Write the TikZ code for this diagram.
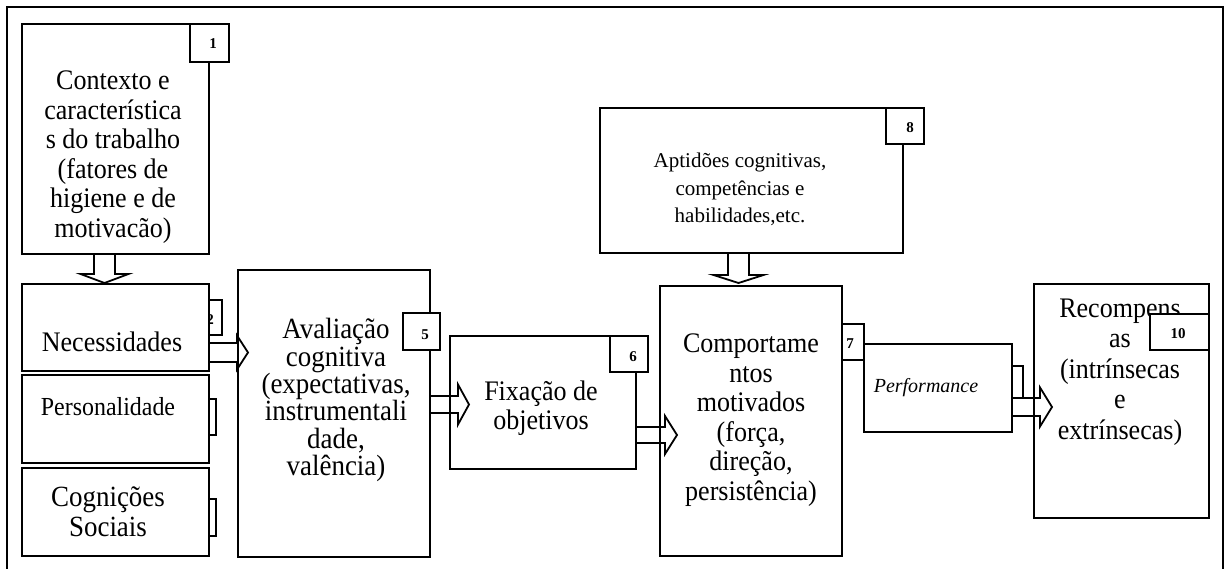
\documentclass[tikz,border=0pt]{standalone}
\usepackage{fontspec}
\setmainfont{Liberation Serif}
\newfontfamily\tallserif[FakeStretch=0.92]{Liberation Serif}
\usetikzlibrary{calc}
\tikzset{
  boxline/.style={draw=black, line width=2pt, fill=white, inner sep=0pt, anchor=north west},
  tabbox/.style={draw=black, line width=1.9pt, fill=white, inner sep=0pt, anchor=north west},
  tabnum/.style={font=\fontsize{15}{15}\selectfont\bfseries, inner sep=0pt},
  txt/.style={align=center, inner sep=0pt, font=\tallserif\fontsize{28.3}{29.5}\selectfont},
  barrow/.style={draw=black, line width=1.8pt, line join=miter},
  frameline/.style={draw=black, line width=1.8pt},
}
% right-pointing block arrow: start, tip, shaft half, head half, head length
\newcommand\blockright[5]{%
  \draw[barrow] let \p1=(#1), \p2=(#2) in
    (\x1,\y1+#3) -- (\x2-#5,\y1+#3) -- (\x2-#5,\y1+#4) -- (\x2,\y1)
    -- (\x2-#5,\y1-#4) -- (\x2-#5,\y1-#3) -- (\x1,\y1-#3);}
% down-pointing block arrow: start, tip, shaft half, head half, head length
\newcommand\blockdown[5]{%
  \draw[barrow] let \p1=(#1), \p2=(#2) in
    (\x1-#3,\y1) -- (\x1-#3,\y2+#5) -- (\x1-#4,\y2+#5) -- (\x1,\y2)
    -- (\x1+#4,\y2+#5) -- (\x1+#3,\y2+#5) -- (\x1+#3,\y1);}
\begin{document}
\begin{tikzpicture}[x=1pt,y=-1pt]
\useasboundingbox (0,0) rectangle (1225,568);
\clip (0,0) rectangle (1225,568);
\fill[white] (0,0) rectangle (1225,568);
% outer frame (open at the bottom)
\draw[frameline] (7,590) -- (7,7) -- (1223,7) -- (1223,590);

% tabs lying behind their boxes
\node[tabbox, minimum width=38pt, minimum height=35pt] (n2) at (183,299) {};
\node[tabnum] (d2) at (210,320) {2};
\node[tabbox, minimum width=35pt, minimum height=36pt] (n3) at (180,398) {};
\node[tabbox, minimum width=35pt, minimum height=37pt] (n4) at (180,498) {};
\node[tabbox, minimum width=38pt, minimum height=36pt] (n7) at (825,323) {};
\node[tabnum] (d7) at (850,344) {7};
\node[tabbox, minimum width=37pt, minimum height=32pt] (n9) at (985,365) {};

% boxes
\node[boxline, minimum width=187pt, minimum height=230pt] (b1) at (21,23) {};
\node[boxline, minimum width=187pt, minimum height=87pt] (b2) at (21,283) {};
\node[boxline, minimum width=187pt, minimum height=88pt] (b3) at (21,374) {};
\node[boxline, minimum width=187pt, minimum height=88pt] (b4) at (21,467) {};
\node[boxline, minimum width=192pt, minimum height=287pt] (b5) at (237,269) {};
\node[boxline, minimum width=186pt, minimum height=133pt] (b6) at (449,335) {};
\node[boxline, minimum width=303pt, minimum height=145pt] (b8) at (599,107) {};
\node[boxline, minimum width=182pt, minimum height=270pt] (b7) at (659,285) {};
\node[boxline, minimum width=148pt, minimum height=88pt] (bp) at (863,343) {};
\node[boxline, minimum width=175pt, minimum height=234pt] (b10) at (1033,283) {};

% texts
\node[txt] (t1) at (113,157) {Contexto e\\característica\\s do trabalho\\(fatores de\\higiene e de\\motivacão)};
\node[txt] (t2) at (112,342) {Necessidades};
\node[txt, font=\tallserif\fontsize{26}{28}\selectfont] (t3) at (108,407) {Personalidade};
\node[txt, font=\tallserif\fontsize{29.3}{30}\selectfont] (t4) at (108,512) {Cognições\\Sociais};
\node[txt, font=\tallserif\fontsize{29.3}{27.3}\selectfont] (t5) at (336,400) {Avaliação\\cognitiva\\(expectativas,\\instrumentali\\dade,\\valência)};
\node[txt] (t6) at (541,408) {Fixação de\\objetivos};
\node[txt, font=\fontsize{21}{27.5}\selectfont] (t8) at (740,189.5) {Aptidões cognitivas,\\competências e\\habilidades,etc.};
\node[txt] (t7) at (751,420) {Comportame\\ntos\\motivados\\(força,\\direção,\\persistência)};
\node[txt, font=\fontsize{20}{24}\selectfont\itshape] (tp) at (926,388) {Performance};
\node[txt, font=\tallserif\fontsize{28.3}{30.5}\selectfont] (t10) at (1120,372) {Recompens\\as\\(intrínsecas\\e\\extrínsecas)};

% tabs in front
\node[tabbox, minimum width=39pt, minimum height=38pt] (n1) at (189,23) {};
\node[tabnum] (d1) at (213,44) {1};
\node[tabbox, minimum width=37pt, minimum height=37pt] (n5) at (402,312) {};
\node[tabnum] (d5) at (425,335) {5};
\node[tabbox, minimum width=38pt, minimum height=36pt] (n6) at (609,335) {};
\node[tabnum] (d6) at (633,357) {6};
\node[tabbox, minimum width=38pt, minimum height=36pt] (n8) at (885,107) {};
\node[tabnum] (d8) at (910,128) {8};
\node[tabbox, minimum width=59pt, minimum height=36pt] (n10) at (1149,313) {};
\node[tabnum] (d10) at (1178,334) {10};

% arrow end points
\coordinate (s12) at ($(b1.south west)+(83.5,0)$);
\coordinate (e12) at ($(b2.north west)+(83.5,0)$);
\coordinate (s87) at ($(b8.south west)+(139.5,0)$);
\coordinate (e87) at ($(b7.north west)+(79.5,-2)$);
\coordinate (s25) at ($(b2.north east)+(0,69.5)$);
\coordinate (e25) at ($(b5.north west)+(11,83.5)$);
\coordinate (s56) at ($(b5.north east)+(0,135.5)$);
\coordinate (e56) at ($(b6.north west)+(20,69.5)$);
\coordinate (s67) at ($(b6.north east)+(0,100)$);
\coordinate (e67) at ($(b7.north west)+(18,150)$);
\coordinate (sp10) at ($(bp.north east)+(0,64)$);
\coordinate (ep10) at ($(b10.north west)+(19,124)$);

% block arrows
\blockdown{s12}{e12}{10.5pt}{24pt}{9pt}
\blockdown{s87}{e87}{10.5pt}{25pt}{8pt}
\blockright{s25}{e25}{9.5pt}{17pt}{11pt}
\blockright{s56}{e56}{8.5pt}{20pt}{11pt}
\blockright{s67}{e67}{8pt}{19pt}{12pt}
\blockright{sp10}{ep10}{9pt}{19.5pt}{12pt}
\end{tikzpicture}
\end{document}
